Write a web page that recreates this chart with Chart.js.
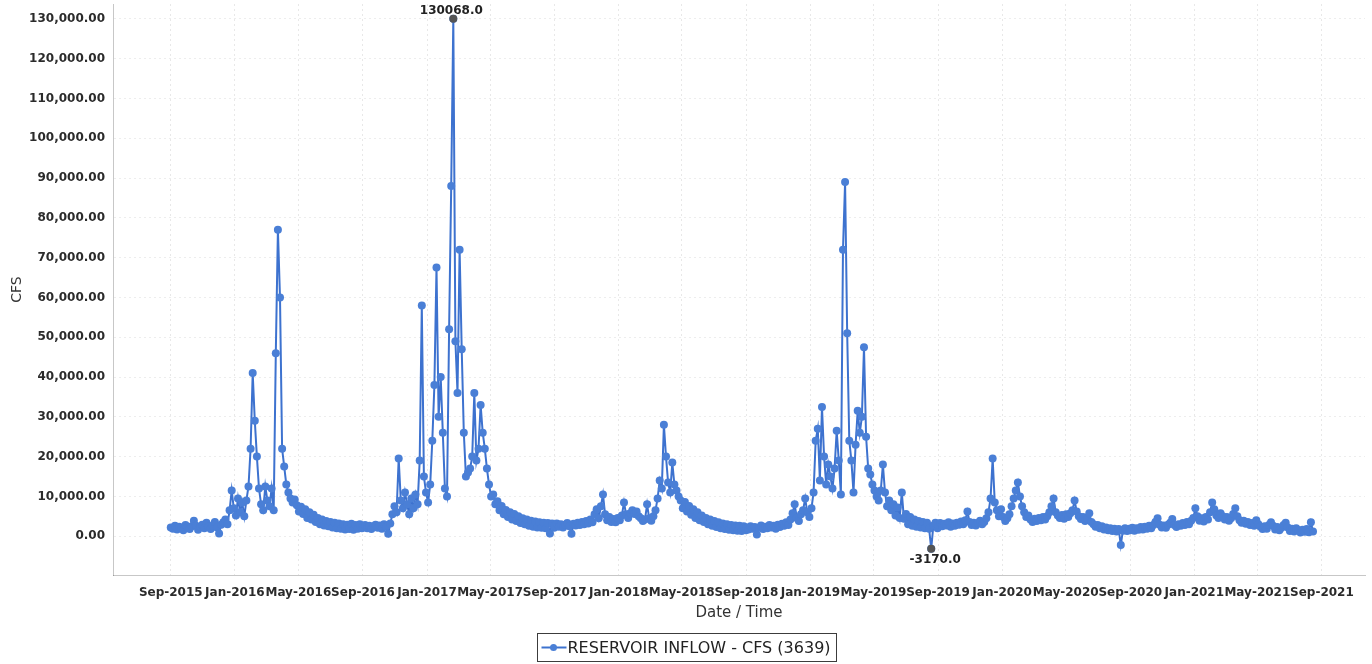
<!DOCTYPE html>
<html>
<head>
<meta charset="utf-8">
<title>Reservoir Inflow</title>
<script src="https://cdn.jsdelivr.net/npm/chart.js@4.4.1/dist/chart.umd.min.js"></script>
<style>
  html, body { margin: 0; padding: 0; background: #fff; }
  canvas { display: block; }
</style>
</head>
<body>
<canvas id="inflow-chart" width="1372" height="664"></canvas>
<script>
// daily inflow readings, sampled every 4 days, one array per water year (Sep 1 -> Aug 31)
const STEP_DAYS = 4;

const wy2016 = [
    2200, 1900, 2600, 1700, 2400, 2100, 1500, 2800, 2300, 1800,
    2500, 3900, 2600, 1600, 2300, 2900, 2000, 3400, 2500, 1800,
    2700, 3600, 2200, 700, 2900, 3500, 4200, 3000, 6500, 11500,
    7000, 5200, 9500, 6000, 8500, 5000, 9000, 12500, 22000, 41000,
    29000, 20000, 12000, 8000, 6500, 12500, 9000, 7500, 12000, 6500,
    46000, 77000, 60000, 22000, 17500, 13000, 11000, 9500, 8500, 9200,
    7800, 6200, 7400, 5600, 6800, 4600, 6000, 4200, 5400, 3600,
    4600, 3000, 4200, 2700, 3800, 2500, 3600, 2200, 3400, 2000,
    3200, 1900, 3000, 1700, 2900, 1800, 3100, 1600, 2800, 1900,
    3000, 2000
];
const wy2017 = [
    2300, 2800, 2000, 2600, 1800, 2500, 2900, 2100, 2700, 1900,
    3000, 2400, 600, 3200, 5500, 7500, 6000, 19500, 9000, 7000,
    11000, 8000, 5500, 9500, 7000, 10500, 8000, 19000, 58000, 15000,
    11000, 8500, 13000, 24000, 38000, 67500, 30000, 40000, 26000, 12000,
    10000, 52000, 88000, 130068, 49000, 36000, 72000, 47000, 26000, 15000,
    16000, 17000, 20000, 36000, 19000, 22000, 33000, 26000, 22000, 17000,
    13000, 10000, 10500, 8000, 8800, 6500, 7600, 5500, 6600, 4800,
    6000, 4200, 5600, 3800, 5000, 3300, 4500, 3000, 4200, 2600,
    3900, 2400, 3700, 2200, 3500, 2100, 3400, 2000, 3300, 700,
    3200, 2100
];
const wy2018 = [
    2600, 3200, 2400, 3000, 2200, 2900, 3300, 2500, 600, 3100,
    2700, 3400, 2800, 3600, 3000, 3800, 3200, 4200, 3500, 5500,
    6800, 4500, 7500, 10500, 5500, 4000, 4800, 3600, 4300, 3500,
    4600, 4000, 5200, 8500, 5500, 4600, 5800, 6500, 5600, 6200,
    5000, 4500, 3800, 4200, 8000, 4500, 3900, 5000, 6500, 9500,
    14000, 12000, 28000, 20000, 13500, 11000, 18500, 13000, 11500, 10000,
    9000, 7000, 8600, 6200, 7600, 5400, 6800, 4600, 6000, 4000,
    5200, 3600, 4600, 3000, 4200, 2600, 3800, 2300, 3500, 2000,
    3200, 1800, 3000, 1600, 2800, 1500, 2700, 1400, 2600, 1300,
    2500, 1500
];
const wy2019 = [
    2200, 1700, 2500, 1900, 2300, 400, 2100, 2700, 1800, 2400,
    2000, 2800, 2200, 2600, 1900, 2900, 2300, 3100, 2600, 3500,
    2800, 4200, 5800, 8000, 4600, 3800, 5500, 6500, 9500, 6000,
    4800, 7000, 11000, 24000, 27000, 14000, 32500, 20000, 13000, 18000,
    15000, 12000, 17000, 26500, 19000, 10500, 72000, 89000, 51000, 24000,
    19000, 11000, 23000, 31500, 26000, 30000, 47500, 25000, 17000, 15500,
    13000, 11500, 10000, 9000, 11500, 18000, 11000, 7500, 9000, 6500,
    8000, 5200, 7200, 4600, 11000, 4400, 5600, 3000, 4800, 2600,
    4200, 2400, 3800, 2200, 3600, 2000, 3400, 1900, -3170, 2600,
    3400, 2000
];
const wy2020 = [
    2800, 3300, 2500, 3100, 2700, 3500, 2400, 3200, 2600, 3400,
    2900, 3700, 3000, 4000, 6200, 3600, 2800, 3400, 2700, 3300,
    3900, 3000, 3600, 4500, 6000, 9500, 19500, 8500, 6500, 5000,
    6800, 4800, 3800, 4500, 5500, 7500, 9500, 11500, 13500, 10000,
    7500, 6000, 4800, 5200, 4200, 3600, 4400, 3800, 4600, 4000,
    4800, 4200, 5000, 6000, 7500, 9500, 6000, 5200, 4600, 5300,
    4400, 5500, 4800, 5800, 6500, 9000, 6200, 5000, 4300, 4800,
    3800, 4400, 5800, 3600, 3000, 2400, 2800, 2000, 2500, 1700,
    2200, 1500, 2000, 1300, 1900, 1200, 1800, -2200, 1400, 2000,
    1300, 1900
];
const wy2021 = [
    1500, 2100, 1400, 2000, 1600, 2300, 1700, 2400, 1900, 2600,
    2000, 2800, 3600, 4500, 2900, 2200, 2700, 2100, 2900, 3400,
    4300, 2800, 2300, 3000, 2600, 3300, 2800, 3600, 3000, 3900,
    4600, 7000, 5000, 3900, 4500, 3700, 4800, 4200, 6000, 8500,
    6800, 5200, 4600, 5800, 5000, 4200, 4800, 3900, 4500, 5600,
    7000, 5000, 4000, 3400, 3900, 3100, 3600, 2800, 3300, 2600,
    4000, 3000, 2400, 1800, 2500, 1900, 2800, 3500, 2600, 1700,
    2300, 1500, 2100, 2800, 3400, 2200, 1300, 1900, 1200, 2000,
    1500, 900, 1600, 1100, 1800, 1000, 3500, 1200
];

const waterYears = [
    { startYear: 2015, flows: wy2016 },
    { startYear: 2016, flows: wy2017 },
    { startYear: 2017, flows: wy2018 },
    { startYear: 2018, flows: wy2019 },
    { startYear: 2019, flows: wy2020 },
    { startYear: 2020, flows: wy2021 },
];

// x axis labels, every 4 months
const tickLabels = [
    'Sep-2015', 'Jan-2016', 'May-2016', 'Sep-2016', 'Jan-2017', 'May-2017',
    'Sep-2017', 'Jan-2018', 'May-2018', 'Sep-2018', 'Jan-2019', 'May-2019',
    'Sep-2019', 'Jan-2020', 'May-2020', 'Sep-2020', 'Jan-2021', 'May-2021',
    'Sep-2021'
];
const yTicks = [0, 10000, 20000, 30000, 40000, 50000, 60000, 70000, 80000, 90000, 100000, 110000, 120000, 130000];

const SERIES_NAME = 'RESERVOIR INFLOW - CFS (3639)';
const LINE_COLOR = '#3d72cf';
const POINT_COLOR = '#4a7fd6';
const MARK_COLOR = '#555555';

const DAY_MS = 86400000;
const ORIGIN = Date.UTC(2015, 8, 1);
const monthNames = ['Jan','Feb','Mar','Apr','May','Jun','Jul','Aug','Sep','Oct','Nov','Dec'];

function dayOf(year, month) {
    return Math.round((Date.UTC(year, month, 1) - ORIGIN) / DAY_MS);
}

// tick label -> day offset from Sep 1 2015
const tickDays = tickLabels.map(lbl => {
    const [mon, yr] = lbl.split('-');
    return dayOf(+yr, monthNames.indexOf(mon));
});

const points = [];
waterYears.forEach(wy => {
    const start = dayOf(wy.startYear, 8);
    wy.flows.forEach((v, i) => points.push({ x: start + i * STEP_DAYS, y: v }));
});

// no extra room for the end labels, the plot box is fixed
function noLabelPadding(axis) {
    axis.paddingTop = 0;
    axis.paddingBottom = 0;
    axis.paddingLeft = 0;
    axis.paddingRight = 0;
}

// max / min markers with their value written next to them
const extremes = {
    id: 'extremes',
    afterDatasetsDraw(chart) {
        const { ctx, scales } = chart;
        let hi = points[0], lo = points[0];
        points.forEach(p => {
            if (p.y > hi.y) hi = p;
            if (p.y < lo.y) lo = p;
        });
        ctx.save();
        ctx.font = 'bold 12px "DejaVu Sans"';
        ctx.textAlign = 'center';
        ctx.textBaseline = 'middle';
        [[hi, -1], [lo, 1]].forEach(([p, dir]) => {
            const px = scales.x.getPixelForValue(p.x);
            const py = scales.y.getPixelForValue(p.y);
            ctx.fillStyle = MARK_COLOR;
            ctx.beginPath();
            ctx.arc(px, py, 4, 0, Math.PI * 2);
            ctx.fill();
            ctx.fillStyle = '#222';
            ctx.fillText(p.y.toFixed(1), px + (dir < 0 ? -2 : 4), py + dir * (dir < 0 ? 8 : 11));
        });
        ctx.restore();
    }
};

// boxed legend under the axis title
const legendBox = {
    id: 'legendBox',
    afterDraw(chart) {
        const ctx = chart.ctx;
        ctx.save();
        ctx.font = '16px "DejaVu Sans"';
        const w = Math.round(ctx.measureText(SERIES_NAME).width) + 36;
        const h = 28;
        const x = Math.round((chart.width - w) / 2) + 0.5;
        const y = 633.5;
        ctx.fillStyle = '#fff';
        ctx.fillRect(x, y, w, h);
        ctx.strokeStyle = '#3c3c3c';
        ctx.lineWidth = 1;
        ctx.strokeRect(x, y, w, h);
        const my = y + h / 2;
        ctx.strokeStyle = LINE_COLOR;
        ctx.lineWidth = 2;
        ctx.beginPath();
        ctx.moveTo(x + 4, my);
        ctx.lineTo(x + 29, my);
        ctx.stroke();
        ctx.fillStyle = POINT_COLOR;
        ctx.beginPath();
        ctx.arc(x + 16, my, 3.5, 0, Math.PI * 2);
        ctx.fill();
        ctx.fillStyle = '#222';
        ctx.textBaseline = 'middle';
        ctx.fillText(SERIES_NAME, x + 30, my + 1);
        ctx.restore();
    }
};

Chart.defaults.font.family = '"DejaVu Sans", sans-serif';
Chart.defaults.color = '#333';

const ctx = document.getElementById('inflow-chart').getContext('2d');
new Chart(ctx, {
    type: 'line',
    data: {
        datasets: [{
            label: SERIES_NAME,
            data: points,
            borderColor: LINE_COLOR,
            borderWidth: 2,
            backgroundColor: POINT_COLOR,
            pointBackgroundColor: POINT_COLOR,
            pointBorderColor: POINT_COLOR,
            pointRadius: 4,
            pointBorderWidth: 0,
            tension: 0,
            fill: false,
        }]
    },
    options: {
        responsive: false,
        animation: false,
        parsing: false,
        layout: { padding: { left: 0, right: 7, top: 0, bottom: 42 } },
        plugins: {
            legend: { display: false },
            tooltip: { enabled: false },
        },
        scales: {
            x: {
                type: 'linear',
                min: -110,
                max: 2274,
                afterBuildTicks: axis => { axis.ticks = tickDays.map(v => ({ value: v })); },
                afterFit: axis => { axis.height = 47; noLabelPadding(axis); },
                ticks: {
                    autoSkip: false,
                    maxRotation: 0,
                    minRotation: 0,
                    padding: 11,
                    color: '#2b2b2b',
                    font: { size: 12, weight: 'bold' },
                    callback: (value) => tickLabels[tickDays.indexOf(value)],
                },
                grid: {
                    drawTicks: false,
                    color: 'rgba(0,0,0,0.09)',
                    lineWidth: 1,
                },
                border: { color: 'rgba(0,0,0,0.22)', dash: [2, 3] },
                title: {
                    display: true,
                    text: 'Date / Time',
                    color: '#333',
                    font: { size: 15 },
                    padding: { top: 0, bottom: 0 },
                },
            },
            y: {
                min: -9750,
                max: 133750,
                afterBuildTicks: axis => { axis.ticks = yTicks.map(v => ({ value: v })); },
                afterFit: axis => { axis.width = 113; noLabelPadding(axis); },
                ticks: {
                    padding: 8,
                    color: '#2b2b2b',
                    font: { size: 12, weight: 'bold' },
                    callback: (value) => value.toLocaleString('en-US', { minimumFractionDigits: 2, maximumFractionDigits: 2 }),
                },
                grid: {
                    drawTicks: false,
                    color: 'rgba(0,0,0,0.07)',
                    lineWidth: 1,
                },
                border: { color: 'rgba(0,0,0,0.22)', dash: [2, 3] },
                title: {
                    display: true,
                    text: 'CFS',
                    color: '#333',
                    font: { size: 14 },
                    padding: { top: 9, bottom: 0 },
                },
            }
        }
    },
    plugins: [extremes, legendBox]
});
</script>
</body>
</html>
